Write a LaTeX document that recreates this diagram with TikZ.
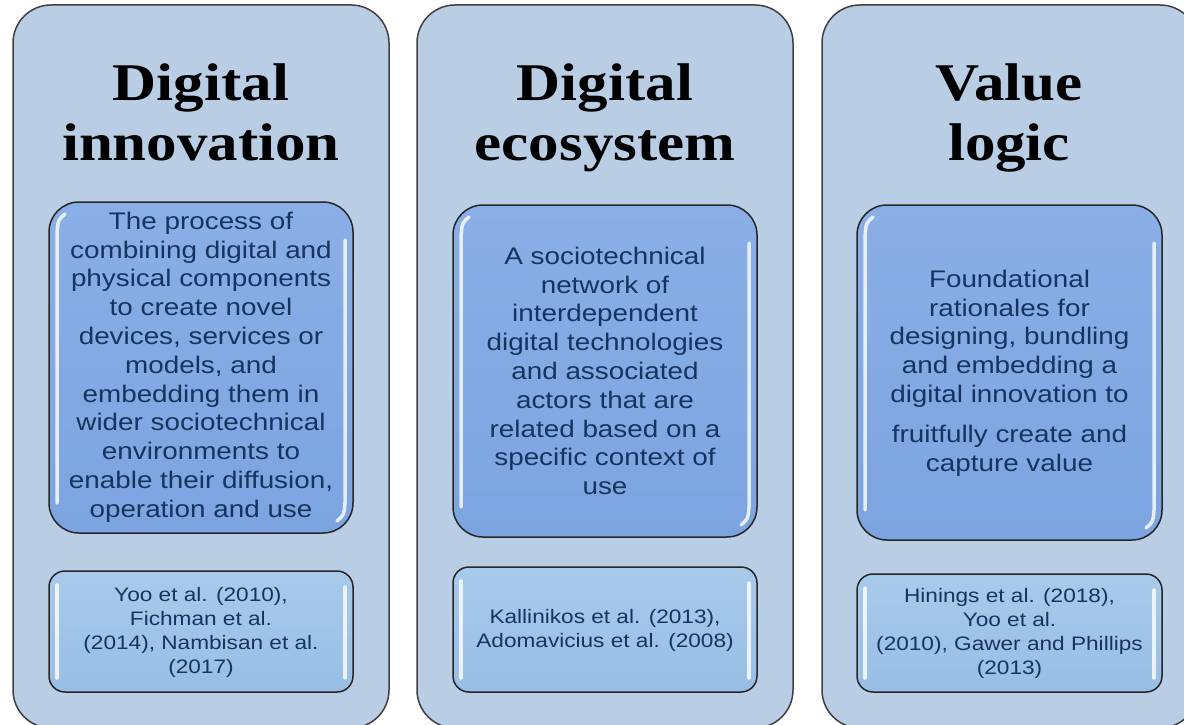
\documentclass[tikz,border=0pt]{standalone}
\usepackage{fontspec}
\newfontfamily\titlefont[FakeStretch=1.15]{Liberation Serif}
\newfontfamily\bodyfont[FakeStretch=1.16]{Liberation Sans}
\definecolor{outerfill}{RGB}{185,205,229}
\definecolor{outline}{RGB}{64,64,64}
\definecolor{deftop}{RGB}{138,175,230}
\definecolor{defbot}{RGB}{124,164,224}
\definecolor{reftop}{RGB}{168,202,235}
\definecolor{refbot}{RGB}{152,190,229}
\definecolor{navy}{RGB}{23,52,96}
\begin{document}
\begin{tikzpicture}[x=1pt,y=-1pt,
  outerbox/.style={draw=outline,line width=1.5pt,fill=outerfill,rounded corners=38pt},
  defbox/.style={draw=black!85,line width=1.5pt,rounded corners=30pt,top color=deftop,bottom color=defbot},
  refbox/.style={draw=black!85,line width=1.5pt,rounded corners=16pt,top color=reftop,bottom color=refbot},
  gloss/.style={draw=white,line width=3.5pt,line cap=round,opacity=0.8},
  titletext/.style={font=\titlefont\bfseries\fontsize{53}{60}\selectfont,anchor=base,inner sep=0pt},
  deftext/.style={font=\bodyfont\fontsize{24}{28.8}\selectfont,text=navy,align=center,inner sep=0pt},
  reftext/.style={font=\bodyfont\fontsize{19.5}{24}\selectfont,text=navy,align=center,inner sep=0pt}]
\clip (0,0) rectangle (1184,725);
\fill[white] (0,0) rectangle (1184,725);
% outer columns
\path[outerbox] (13,5) rectangle (389,728);
\path[outerbox] (417,5) rectangle (793,728);
\path[outerbox] (822,5) rectangle (1198,728);
% definition boxes
\path[defbox] (49,202) rectangle (353,533);
\path[defbox] (453,205) rectangle (757,537);
\path[defbox] (857,205) rectangle (1162,540);
% reference boxes
\path[refbox] (49,571) rectangle (353,692);
\path[refbox] (453,567) rectangle (757,692);
\path[refbox] (857,574) rectangle (1162,692);
% gloss highlights
\foreach \xa/\xb/\ya/\yb in {49/353/202/533,453/757/205/537,857/1162/205/540}{
  \draw[gloss] (\xa+16,\ya+12) .. controls (\xa+9,\ya+18) .. (\xa+8,\ya+32) -- (\xa+8,\yb-30);
  \draw[gloss] (\xb-8,\ya+38) -- (\xb-8,\yb-30) .. controls (\xb-9,\yb-18) .. (\xb-16,\yb-12);
}
\foreach \xa/\xb/\ya/\yb in {49/353/571/692,453/757/567/692,857/1162/574/692}{
  \draw[gloss] (\xa+8,\ya+14) -- (\xa+8,\yb-14);
  \draw[gloss] (\xb-8,\ya+16) -- (\xb-8,\yb-14);
}
% titles
\node[titletext] (t1a) at (201,100) {Digital};
\node[titletext] (t1b) at (201,160) {innovation};
\node[titletext] (t2a) at (605,100) {Digital};
\node[titletext] (t2b) at (605,160) {ecosystem};
\node[titletext] (t3a) at (1009,100) {Value};
\node[titletext] (t3b) at (1009,160) {logic};
% definitions
\node[deftext] (d1) at (201,367) {The process of\\combining digital and\\physical components\\to create novel\\devices, services or\\models, and\\embedding them in\\wider sociotechnical\\environments to\\enable their diffusion,\\operation and use};
\node[deftext] (d2) at (605,371) {A sociotechnical\\network of\\interdependent\\digital technologies\\and associated\\actors that are\\related based on a\\specific context of\\use};
\node[deftext] (d3) at (1009.5,373) {Foundational\\rationales for\\designing, bundling\\and embedding a\\digital innovation to\\[11pt]fruitfully create and\\capture value};
% references
\node[reftext] (r1) at (201,632) {Yoo et al. (2010),\\Fichman et al.\\(2014), Nambisan et al.\\(2017)};
\node[reftext] (r2) at (605,630) {Kallinikos et al. (2013),\\Adomavicius et al. (2008)};
\node[reftext] (r3) at (1009.5,633) {Hinings et al. (2018),\\Yoo et al.\\(2010), Gawer and Phillips\\(2013)};
\end{tikzpicture}
\end{document}
